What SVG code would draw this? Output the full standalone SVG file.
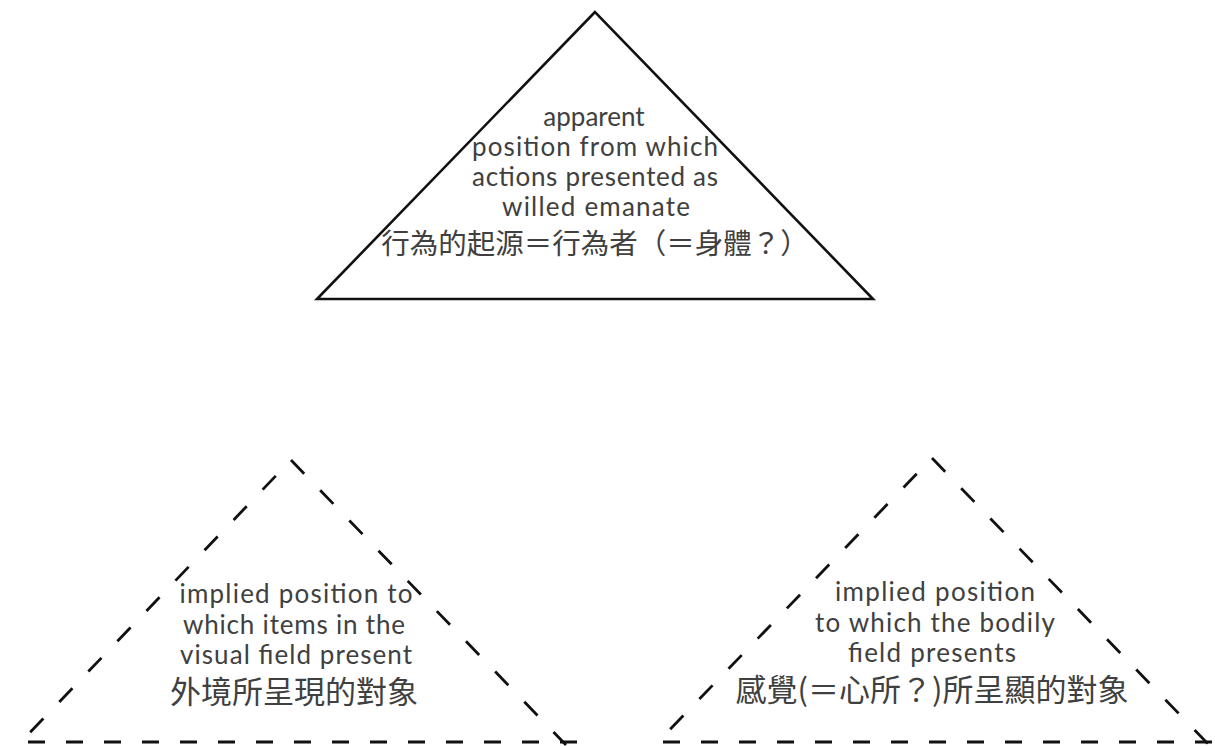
<svg xmlns="http://www.w3.org/2000/svg" width="1215" height="746" viewBox="0 0 1215 746">
  <style>
    .tri { fill: #ffffff; stroke: #111111; stroke-width: 2.6; stroke-linejoin: miter; }
    .dash { fill: none; stroke: #111111; stroke-width: 2.8; stroke-dasharray: 19 23; }
    .base { fill: none; stroke: #111111; stroke-width: 2.8; stroke-dasharray: 17 21; }
    .en { font-family: Lato, "Open Sans", "Liberation Sans", sans-serif; font-size: 26px; fill: #404040; text-anchor: middle; }
    .zh { font-family: "Noto Sans CJK TC", "Noto Sans CJK SC", sans-serif; font-size: 28.5px; fill: #404040; text-anchor: middle; }
    .zh2 { font-size: 31px; }
  </style>
  <rect x="0" y="0" width="1215" height="746" fill="#ffffff"/>

  <g id="node-agent">
    <polygon class="tri" points="595,12 317,299 873,299"/>
    <text class="en" x="594" y="126">apparent</text>
    <text class="en" x="595" y="156" textLength="246" lengthAdjust="spacing">position from which</text>
    <text class="en" x="595" y="186" textLength="246" lengthAdjust="spacing">actions presented as</text>
    <text class="en" x="596" y="216" textLength="188" lengthAdjust="spacing">willed emanate</text>
    <text class="zh" x="595" y="254">行為的起源＝行為者（＝身體？）</text>
  </g>

  <g id="node-visual">
    <line class="dash" x1="291" y1="460" x2="18" y2="745" stroke-dashoffset="-22"/>
    <line class="dash" x1="291" y1="460" x2="566" y2="745"/>
    <line class="base" x1="28" y1="742" x2="580" y2="742"/>
    <text class="en" x="296" y="603" textLength="233" lengthAdjust="spacing">implied position to</text>
    <text class="en" x="294" y="634" textLength="222" lengthAdjust="spacing">which items in the</text>
    <text class="en" x="296" y="664" textLength="232" lengthAdjust="spacing">visual field present</text>
    <text class="zh zh2" x="294" y="703">外境所呈現的對象</text>
  </g>

  <g id="node-bodily">
    <line class="dash" x1="932" y1="458" x2="655" y2="745" stroke-dashoffset="-22"/>
    <line class="dash" x1="932" y1="458" x2="1212" y2="748"/>
    <line class="base" x1="663" y1="742" x2="1215" y2="742"/>
    <text class="en" x="935" y="601" textLength="200" lengthAdjust="spacing">implied position</text>
    <text class="en" x="935" y="632" textLength="240" lengthAdjust="spacing">to which the bodily</text>
    <text class="en" x="932" y="662" textLength="168" lengthAdjust="spacing">field  presents</text>
    <text class="zh zh2" x="932" y="701">感覺(＝心所？)所呈顯的對象</text>
  </g>

  <g id="connectors"/>
</svg>
